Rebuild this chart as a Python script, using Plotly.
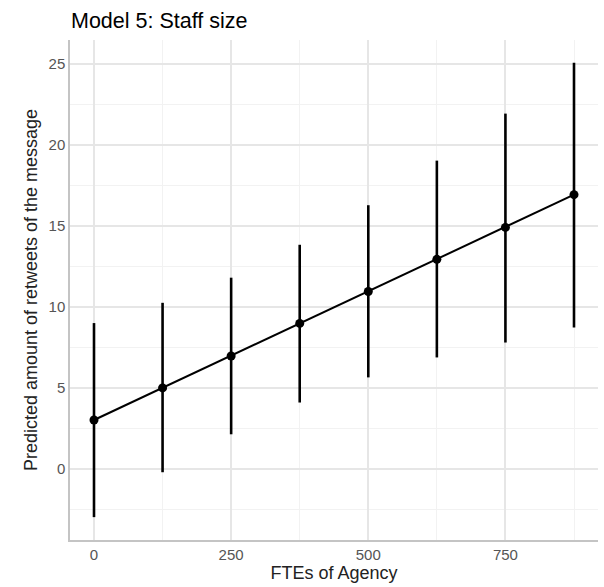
import plotly.graph_objects as go

# Data
fte = [0, 125, 250, 375, 500, 625, 750, 875]
predicted = [3.02, 5.0, 6.97, 8.98, 10.95, 12.93, 14.9, 16.92]
upper = [9.0, 10.25, 11.8, 13.83, 16.27, 19.02, 21.92, 25.06]
lower = [-2.97, -0.2, 2.14, 4.1, 5.65, 6.88, 7.8, 8.72]

x_tickvals = [0, 250, 500, 750]
y_tickvals = [0, 5, 10, 15, 20, 25]

err_plus = [u - p for u, p in zip(upper, predicted)]
err_minus = [p - l for p, l in zip(predicted, lower)]

FONT = "Liberation Sans, Arial, sans-serif"

fig = go.Figure()
fig.add_trace(go.Scatter(
    x=fte, y=predicted, mode="lines+markers",
    line=dict(color="black", width=2),
    marker=dict(color="black", size=9),
    error_y=dict(type="data", symmetric=False, array=err_plus, arrayminus=err_minus,
                 width=0, thickness=2.6, color="black"),
    showlegend=False,
))

fig.update_layout(
    width=604, height=587,
    margin=dict(l=70, r=6, t=40, b=47),
    paper_bgcolor="white", plot_bgcolor="white",
    font=dict(family=FONT, color="#222222"),
    title=dict(text="Model 5: Staff size", x=71/604, xanchor="left", y=1 - 20/587, yanchor="middle",
               font=dict(size=21.5, color="black", family=FONT)),
)
fig.update_xaxes(
    range=[-43.75, 918.75], tickvals=x_tickvals, ticktext=[str(v) for v in x_tickvals],
    showgrid=True, gridcolor="#e6e6e6", gridwidth=1.5,
    minor=dict(tickvals=[125, 375, 625, 875], showgrid=True, gridcolor="#f2f2f2", gridwidth=1.2),
    showline=True, linecolor="#c4c4c4", linewidth=1.5, zeroline=False,
    ticks="", tickfont=dict(size=15, color="#555555"),
    title=dict(text="FTEs of Agency", font=dict(size=18, color="#222222"), standoff=4),
)
fig.update_yaxes(
    range=[-4.38, 26.46], tickvals=y_tickvals, ticktext=[str(v) for v in y_tickvals],
    showgrid=True, gridcolor="#e6e6e6", gridwidth=1.5,
    minor=dict(tickvals=[-2.5, 2.5, 7.5, 12.5, 17.5, 22.5], showgrid=True, gridcolor="#f2f2f2", gridwidth=1.2),
    showline=True, linecolor="#c4c4c4", linewidth=1.5, zeroline=False,
    ticks="", tickfont=dict(size=15, color="#555555"),
    title=dict(text="Predicted amount of retweets of the message", font=dict(size=18, color="#222222"), standoff=6),
)

fig.write_html("out.html")
